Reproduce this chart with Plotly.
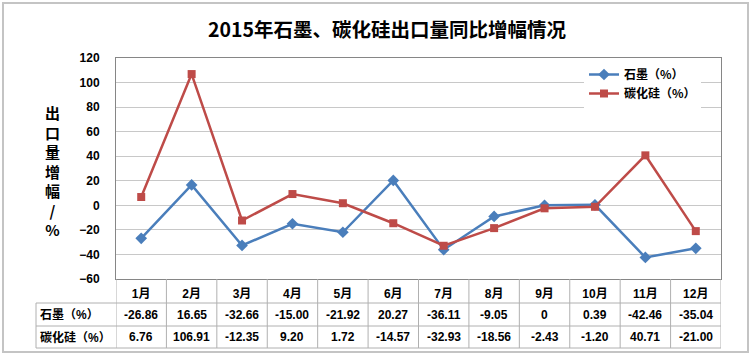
import plotly.graph_objects as go

months = ["1月", "2月", "3月", "4月", "5月", "6月", "7月", "8月", "9月", "10月", "11月", "12月"]
graphite = [-26.86, 16.65, -32.66, -15.00, -21.92, 20.27, -36.11, -9.05, 0, 0.39, -42.46, -35.04]
sic = [6.76, 106.91, -12.35, 9.20, 1.72, -14.57, -32.93, -18.56, -2.43, -1.20, 40.71, -21.00]
series_names = ["石墨（%）", "碳化硅（%）"]
title_text = "2015年石墨、碳化硅出口量同比增幅情况"
ytitle_chars = ["出", "口", "量", "增", "幅", "/", "%"]

W, H = 750, 356
L, R, T, B = 116, 721, 58, 279  # plot area in px
pw, ph = R - L, B - T


def px_x(x):
    return (x - L) / pw


def px_y(y):
    return (B - y) / ph


FONT = "Liberation Sans, Arial, Noto Sans CJK SC"
BLUE = "#4A7EBB"
RED = "#BE4B48"

fig = go.Figure()
fig.add_trace(go.Scatter(
    x=months, y=graphite, name=series_names[0], mode="lines+markers",
    line=dict(color=BLUE, width=2.5),
    marker=dict(symbol="diamond", size=9, color=BLUE),
))
fig.add_trace(go.Scatter(
    x=months, y=sic, name=series_names[1], mode="lines+markers",
    line=dict(color=RED, width=2.5),
    marker=dict(symbol="square", size=8, color=RED),
))


def fmt(v):
    return "0" if v == 0 else f"{v:.2f}"


annotations = []
shapes = []
row_centers = [314.5, 337]
for row, (vals, name) in enumerate([(graphite, series_names[0]), (sic, series_names[1])]):
    yc = px_y(row_centers[row])
    annotations.append(dict(x=px_x(38), y=yc, xref="paper", yref="paper", text=name,
                            showarrow=False, xanchor="left", yanchor="middle",
                            font=dict(family=FONT, size=12, color="black", weight="bold")))
    for m, v in zip(months, vals):
        annotations.append(dict(x=m, y=yc, xref="x", yref="paper", text=fmt(v),
                                showarrow=False, xanchor="center", yanchor="middle",
                                font=dict(family=FONT, size=12, color="black", weight="bold")))

# y-axis title (stacked characters)
annotations.append(dict(x=px_x(52), y=px_y(171), xref="paper", yref="paper",
                        text="<br>".join(ytitle_chars), showarrow=False,
                        xanchor="center", yanchor="middle",
                        font=dict(family="Noto Sans CJK SC", size=15, color="black", weight="bold")))

TLC = "#B0B0B0"
# table horizontal lines
for yy in [303, 326, 348]:
    shapes.append(dict(type="line", xref="paper", yref="paper", x0=px_x(36), x1=1,
                       y0=px_y(yy), y1=px_y(yy), line=dict(color=TLC, width=1)))
# table vertical lines
shapes.append(dict(type="line", xref="paper", yref="paper", x0=px_x(36), x1=px_x(36),
                   y0=px_y(303), y1=px_y(348), line=dict(color=TLC, width=1)))
for i in range(len(months) + 1):
    shapes.append(dict(type="line", xref="x", yref="paper", x0=i - 0.5, x1=i - 0.5,
                       y0=px_y(279), y1=px_y(348), line=dict(color=TLC, width=1)))
# outer border
shapes.append(dict(type="rect", xref="paper", yref="paper", x0=px_x(3), x1=px_x(748),
                   y0=px_y(352), y1=px_y(3), line=dict(color="#C4C4C4", width=2),
                   layer="below"))

fig.update_layout(
    width=W, height=H,
    margin=dict(l=L, r=W - R, t=T, b=H - B),
    paper_bgcolor="white", plot_bgcolor="white",
    title=dict(text=title_text, x=387 / W, xref="container", xanchor="center",
               y=1 - 30 / H, yref="container", yanchor="middle",
               font=dict(family="Noto Sans CJK SC", size=19.5, color="black", weight="bold")),
    xaxis=dict(type="category", range=[-0.5, 11.5], showgrid=False, showline=True, mirror=True,
               linecolor="#868686", linewidth=1, ticks="", tickfont=dict(family=FONT, size=12, color="black", weight="bold"),
               ticklabelstandoff=4, fixedrange=True),
    yaxis=dict(range=[-60, 120], dtick=20, showgrid=True, gridcolor="#C8C8C8", gridwidth=1,
               showline=True, mirror=True, linecolor="#868686", linewidth=1, zeroline=False,
               ticks="", ticklabelstandoff=13,
               tickfont=dict(family=FONT, size=12, color="black", weight="bold")),
    legend=dict(x=px_x(584), y=px_y(60), xanchor="left", yanchor="top", xref="paper", yref="paper",
                bgcolor="white", borderwidth=0, tracegroupgap=0,
                font=dict(family="Noto Sans CJK SC", size=12, color="black", weight="bold"),
                itemwidth=30),
    showlegend=True,
    annotations=annotations,
    shapes=shapes,
)

fig.write_html("out.html", config={"displayModeBar": False},
               post_script="document.body.style.margin='0';document.body.style.overflow='hidden';")
